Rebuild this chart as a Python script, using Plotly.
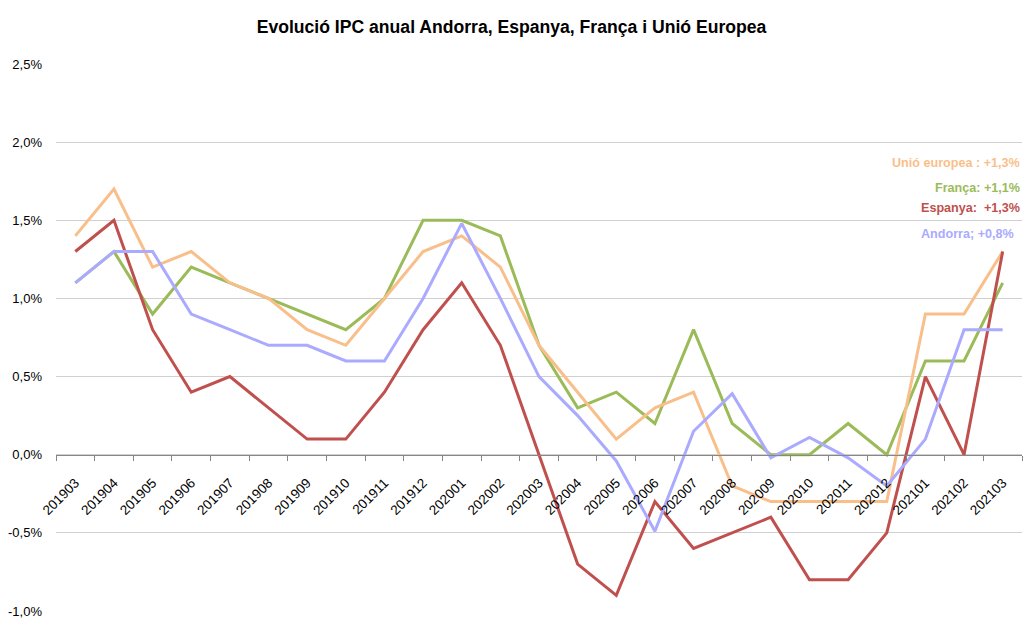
import plotly.graph_objects as go

months = ["201903","201904","201905","201906","201907","201908","201909","201910","201911","201912",
          "202001","202002","202003","202004","202005","202006","202007","202008","202009","202010",
          "202011","202012","202101","202102","202103"]

andorra = [1.1,1.3,1.3,0.9,0.8,0.7,0.7,0.6,0.6,1.0,1.48,1.0,0.5,0.25,-0.04,-0.49,0.15,0.39,-0.02,0.11,-0.02,-0.2,0.1,0.8,0.8]
espanya = [1.3,1.5,0.8,0.4,0.5,0.3,0.1,0.1,0.4,0.8,1.1,0.7,0.0,-0.7,-0.9,-0.3,-0.6,-0.5,-0.4,-0.8,-0.8,-0.5,0.5,0.0,1.3]
franca = [1.1,1.3,0.9,1.2,1.1,1.0,0.9,0.8,1.0,1.5,1.5,1.4,0.7,0.3,0.4,0.2,0.8,0.2,0.0,0.0,0.2,0.0,0.6,0.6,1.1]
ue = [1.4,1.7,1.2,1.3,1.1,1.0,0.8,0.7,1.0,1.3,1.4,1.2,0.7,0.4,0.1,0.3,0.4,-0.2,-0.3,-0.3,-0.3,-0.3,0.9,0.9,1.3]

ytick_vals = [-1.0,-0.5,0.0,0.5,1.0,1.5,2.0,2.5]
ytick_text = ["-1,0%","-0,5%","0,0%","0,5%","1,0%","1,5%","2,0%","2,5%"]

C_UE = "#F9BF8B"
C_FR = "#9BBB59"
C_ES = "#C0504D"
C_AD = "#AAAAFF"

fig = go.Figure()
fig.add_trace(go.Scatter(x=months, y=franca, mode="lines", name="França", line=dict(color=C_FR, width=3)))
fig.add_trace(go.Scatter(x=months, y=ue, mode="lines", name="Unió europea", line=dict(color=C_UE, width=3)))
fig.add_trace(go.Scatter(x=months, y=espanya, mode="lines", name="Espanya", line=dict(color=C_ES, width=3)))
fig.add_trace(go.Scatter(x=months, y=andorra, mode="lines", name="Andorra", line=dict(color=C_AD, width=3)))

ymin, ymax = -1.0, 2.5
zero_pos = (0 - ymin) / (ymax - ymin)

fig.update_layout(
    width=1023, height=619,
    margin=dict(l=56, r=1, t=64, b=8),
    paper_bgcolor="white", plot_bgcolor="white",
    showlegend=False,
    font=dict(family="Liberation Sans, Arial, sans-serif", size=13, color="#000000"),
    title=dict(text="<b>Evolució IPC anual Andorra, Espanya, França i Unió Europea</b>",
               x=0.5, xanchor="center", y=1 - 27/619, yanchor="middle",
               font=dict(family="Liberation Sans, Arial, sans-serif", size=17.6, color="#000000")),
    xaxis=dict(type="category", anchor="free", position=zero_pos,
               showline=True, linecolor="#878787", linewidth=1,
               ticks="outside", ticklen=5, tickcolor="#878787", tickson="boundaries",
               tickangle=-45, showgrid=False, zeroline=False, automargin=False,
               ticklabelstandoff=14,
               tickfont=dict(size=13.5, color="#000000"), range=[-0.5, 24.5]),
    yaxis=dict(range=[ymin, ymax], tickvals=ytick_vals, ticktext=ytick_text,
               showgrid=True, gridcolor="#D0D0D0", gridwidth=1, zeroline=False,
               showline=False, ticks="", automargin=False, ticklabelstandoff=13,
               tickfont=dict(size=13, color="#000000")),
)

ann = [
    ("Unió europea : +1,3%", C_UE, 163, 1022),
    ("França: +1,1%", C_FR, 188, 1022),
    ("Espanya:  +1,3%", C_ES, 208, 1022),
    ("Andorra; +0,8%", C_AD, 234, 1016),
]
for text, col, ypx, xpx in ann:
    fig.add_annotation(text="<b>" + text + "</b>", xref="paper", yref="paper",
                       x=(xpx - 56) / (1023 - 57), y=(611 - ypx) / (611 - 64),
                       xanchor="right", yanchor="middle", showarrow=False,
                       font=dict(family="Liberation Sans, Arial, sans-serif", size=12.6, color=col))

fig.write_html("out.html", config={"displayModeBar": False},
               post_script="document.body.style.margin='0';document.body.style.overflow='hidden';")
